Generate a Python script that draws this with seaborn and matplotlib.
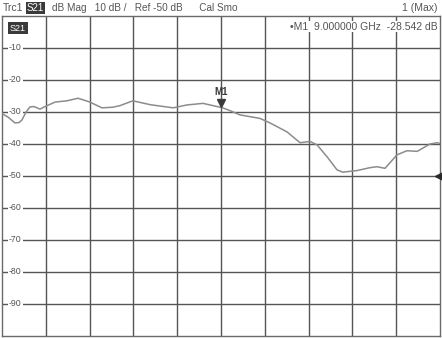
import numpy as np
import pandas as pd
import matplotlib
matplotlib.use("Agg")
import matplotlib.pyplot as plt
import matplotlib.transforms as mtransforms
import seaborn as sns

# ---- data ----
freq_ghz = [0.0, 0.25, 0.53, 0.70, 0.82, 0.99, 1.15, 1.32, 1.56, 1.77, 2.18, 2.67,
            3.12, 3.58, 4.11, 4.56, 4.85, 5.38, 6.08, 7.03, 7.60, 8.26, 8.84, 9.0,
            9.25, 9.78, 10.60, 11.01, 11.71, 12.25, 12.66, 12.95, 13.36, 13.77,
            14.01, 14.59, 15.12, 15.41, 15.74, 16.23, 16.64, 17.06, 17.59, 17.88, 18.0]
s21_db = [-30.5, -31.6, -33.4, -33.3, -32.5, -30.0, -28.4, -28.3, -29.1, -28.3,
          -26.9, -26.5, -25.7, -26.8, -28.7, -28.5, -28.0, -26.5, -27.7, -28.7,
          -27.8, -27.3, -28.3, -28.54, -29.2, -30.9, -32.0, -33.4, -36.2, -39.6,
          -39.2, -40.3, -44.0, -48.1, -48.8, -48.3, -47.4, -47.1, -47.6, -43.4,
          -42.1, -42.3, -40.0, -39.6, -39.8]
y_ticks = [-10, -20, -30, -40, -50, -60, -70, -80, -90]
y_tick_labels = ["-10", "-20", "-30", "-40", "-50", "-60", "-70", "-80", "-90"]
marker_freq = 9.0
marker_db = -28.542
ref_level = -50
start_ghz, stop_ghz = 0.0, 18.0
top_db, bottom_db = 0, -100

df = pd.DataFrame({"freq": freq_ghz, "s21": s21_db})

sns.set_style("white")
plt.rcParams["font.family"] = ["Liberation Sans", "DejaVu Sans"]

fig = plt.figure(figsize=(4.42, 3.38), dpi=100)
ax = fig.add_axes([2 / 442, 2 / 338, 438 / 442, 320 / 338])

grid_c = "#555555"
ax.set_xlim(start_ghz, stop_ghz)
ax.set_ylim(bottom_db, top_db)
xt = np.linspace(start_ghz, stop_ghz, 11)[1:-1]
for x in xt:
    ax.axvline(x, color=grid_c, lw=1.0, zorder=1)
for y in y_ticks:
    ax.axhline(y, color=grid_c, lw=1.0, zorder=1)
ax.set_xticks([])
ax.set_yticks([])
for s in ax.spines.values():
    s.set_color("#6a6a6a")
    s.set_linewidth(1.0)

sns.lineplot(data=df, x="freq", y="s21", ax=ax, color="#8c8c8c", lw=1.1,
             zorder=3, legend=False)
ax.set_xlabel("")
ax.set_ylabel("")

# y labels inside plot
for y, lab in zip(y_ticks, y_tick_labels):
    ax.text(0.55, y, lab, fontsize=6.3, color="#555555", ha="center", va="center",
            zorder=2, bbox=dict(facecolor="white", edgecolor="none", pad=0.6))

# marker M1
off = mtransforms.offset_copy(ax.transData, fig=fig, x=0, y=3.3, units="points")
ax.plot([marker_freq], [marker_db], marker="v", ms=6, color="#3a3a3a",
        transform=off, zorder=5, clip_on=False)
off2 = mtransforms.offset_copy(ax.transData, fig=fig, x=0, y=7.5, units="points")
ax.text(marker_freq, marker_db, "M1", fontsize=7, fontweight="bold", color="#3a3a3a",
        ha="center", va="bottom", transform=off2, zorder=5)

# reference level marker
ax.plot([stop_ghz], [ref_level], marker="<", ms=7, color="#2a2a2a",
        zorder=6, clip_on=False)

# inside header
ax.text(0.018, 0.962, "S21", transform=ax.transAxes, fontsize=6.5, color="white",
        ha="left", va="center", zorder=6,
        bbox=dict(facecolor="#3a3a3a", edgecolor="none", pad=1.2))
ax.text(0.995, 0.966, "\u2022M1  9.000000 GHz  -28.542 dB", transform=ax.transAxes,
        fontsize=7.5, color="#555555", ha="right", va="center", zorder=6,
        bbox=dict(facecolor="white", edgecolor="none", pad=0.3))

# top status line
fig.text(3 / 442, 1 - 8 / 338, "Trc1", fontsize=7.5, color="#555555", ha="left", va="center")
fig.text(27 / 442, 1 - 8 / 338, "S21", fontsize=7, color="white", ha="left", va="center",
         bbox=dict(facecolor="#3a3a3a", edgecolor="none", pad=0.8))
fig.text(52 / 442, 1 - 8 / 338, "dB Mag   10 dB /   Ref -50 dB      Cal Smo", fontsize=7.2,
         color="#555555", ha="left", va="center")
fig.text(438 / 442, 1 - 8 / 338, "1 (Max)", fontsize=7.5, color="#555555", ha="right",
         va="center")

fig.savefig("out.png", dpi=100)
